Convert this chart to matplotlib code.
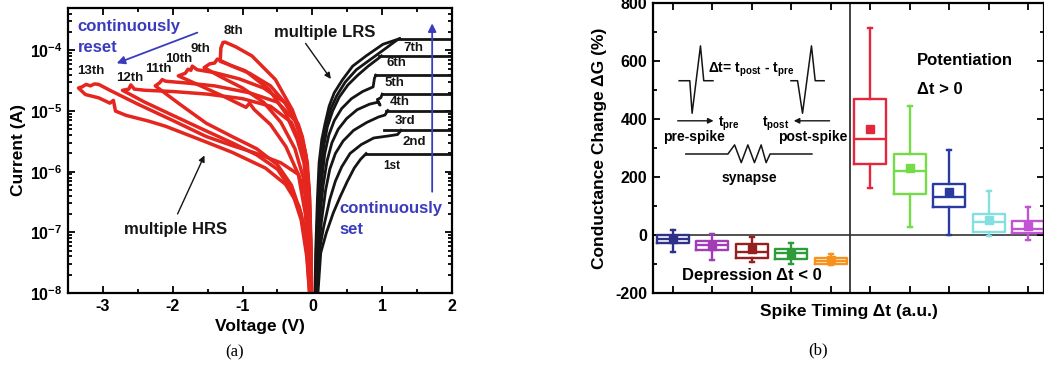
import matplotlib.pyplot as plt
from matplotlib.ticker import FixedLocator, MultipleLocator, LogLocator, NullFormatter

plt.rcParams['font.family'] = ['Liberation Sans', 'DejaVu Sans']
plt.rcParams['font.weight'] = 'bold'
plt.rcParams['axes.labelweight'] = 'bold'
plt.rcParams['axes.unicode_minus'] = False
plt.rcParams['mathtext.fontset'] = 'custom'
plt.rcParams['mathtext.rm'] = 'Liberation Sans:bold'
plt.rcParams['mathtext.bf'] = 'Liberation Sans:bold'
plt.rcParams['mathtext.default'] = 'regular'

# ---------------- (a) I-V sweeps ----------------
# set sweeps, positive bias: rising branch up to the compliance level
set1_v = [0.08, 0.12, 0.2, 0.3, 0.4, 0.5, 0.6, 0.69, 0.77]
set1_i = [1e-8, 4.6e-8, 9.8e-8, 2.1e-7, 3.9e-7, 6.9e-7, 1.15e-6, 1.6e-6, 1.99e-6]
set2_v = [0.072, 0.1, 0.16, 0.25, 0.33, 0.42, 0.54, 0.7, 0.88, 1.1, 1.22, 1.27]
set2_i = [1e-8, 5e-8, 1.2e-7, 3.5e-7, 7e-7, 1.2e-6, 2e-6, 2.8e-6, 3.6e-6, 3.9e-6, 4.1e-6, 4.8e-6]
set3_v = [0.064, 0.088, 0.13, 0.19, 0.25, 0.33, 0.44, 0.59, 0.78, 0.95, 1.04, 1.08]
set3_i = [1e-8, 5e-8, 1.5e-7, 5e-7, 1.1e-6, 2e-6, 3.2e-6, 4.8e-6, 6.5e-6, 8e-6, 8.6e-6, 1.02e-5]
set4_v = [0.057, 0.077, 0.108, 0.155, 0.21, 0.28, 0.37, 0.49, 0.64, 0.82, 0.94, 0.97, 0.93, 0.98, 1.0]
set4_i = [1e-8, 5e-8, 1.8e-7, 6e-7, 1.5e-6, 3e-6, 5e-6, 7.5e-6, 1.05e-5, 1.3e-5, 1.4e-5, 1.25e-5, 1.55e-5, 1.65e-5, 1.9e-5]
set5_v = [0.051, 0.068, 0.095, 0.132, 0.178, 0.235, 0.315, 0.42, 0.56, 0.72, 0.87, 0.89, 0.91]
set5_i = [1e-8, 5e-8, 2e-7, 7e-7, 2e-6, 4e-6, 7e-6, 1.1e-5, 1.6e-5, 2.1e-5, 2.5e-5, 3.5e-5, 3.9e-5]
set6_v = [0.046, 0.06, 0.085, 0.118, 0.162, 0.215, 0.29, 0.385, 0.51, 0.65, 0.8, 0.92, 0.99]
set6_i = [1e-8, 5e-8, 2.5e-7, 9e-7, 2.6e-6, 5.5e-6, 1e-5, 1.7e-5, 2.7e-5, 3.9e-5, 5.5e-5, 7e-5, 8.1e-5]
set7_v = [0.042, 0.055, 0.08, 0.108, 0.15, 0.2, 0.265, 0.35, 0.47, 0.63, 0.84, 1.06, 1.2, 1.25]
set7_i = [1e-8, 5e-8, 3e-7, 1.1e-6, 3e-6, 6e-6, 1.1e-5, 1.8e-5, 3e-5, 4.8e-5, 7.2e-5, 1.1e-4, 1.45e-4, 1.56e-4]
# return branch of the last set sweep (LRS)
lrs7_v = [0.038, 0.048, 0.072, 0.096, 0.135, 0.183, 0.24, 0.313, 0.433, 0.577, 0.769, 1.01, 1.25]
lrs7_i = [1e-8, 5.1e-8, 3.5e-7, 1.4e-6, 3.4e-6, 6.3e-6, 1.2e-5, 2e-5, 3.3e-5, 5.5e-5, 8.1e-5, 1.26e-4, 1.56e-4]

compliance_i = [1.99e-6, 4.8e-6, 1.02e-5, 1.9e-5, 3.9e-5, 8.1e-5, 1.56e-4]
compliance_v0 = [0.77, 1.03, 1.06, 1.0, 0.89, 0.96, 1.25]
set_vmax = 2.0
set_labels = ['1st', '2nd', '3rd', '4th', '5th', '6th', '7th']

# reset sweeps, negative bias: LRS branch -> reset -> HRS branch back to 0
reset8_v = [-0.01, -0.019, -0.038, -0.072, -0.144, -0.288, -0.529, -0.865, -1.1, -1.25,
            -1.28, -1.31, -1.32,
            -0.96, -0.625, -0.385, -0.216, -0.12, -0.06, -0.03, -0.016]
reset8_i = [1e-8, 5e-8, 3.5e-7, 1.4e-6, 3.8e-6, 1.05e-5, 3.3e-5, 8.1e-5, 1.15e-4, 1.37e-4,
            1.35e-4, 1.1e-4, 6.6e-5,
            4.6e-5, 2.3e-5, 9.3e-6, 3.4e-6, 1.4e-6, 3e-7, 5e-8, 1e-8]
reset9_v = [-0.012, -0.022, -0.045, -0.09, -0.18, -0.35, -0.6, -0.9, -1.15, -1.36,
            -1.40, -1.47, -1.55,
            -1.3, -1.0, -0.7, -0.45, -0.25, -0.13, -0.065, -0.035, -0.02]
reset9_i = [1e-8, 6e-8, 4.5e-7, 1.8e-6, 5e-6, 1.2e-5, 2.6e-5, 4.2e-5, 5.5e-5, 7.2e-5,
            6.2e-5, 6e-5, 5.2e-5,
            3.6e-5, 2.4e-5, 1.4e-5, 6.5e-6, 2.4e-6, 8e-7, 1.8e-7, 3e-8, 1e-8]
reset10_v = [-0.014, -0.026, -0.05, -0.1, -0.2, -0.4, -0.7, -1.05, -1.4, -1.65, -1.72,
             -1.74, -1.78, -1.82, -1.92,
             -1.6, -1.25, -0.95, -0.9, -0.83, -0.6, -0.38, -0.2, -0.1, -0.05, -0.025]
reset10_i = [1e-8, 7e-8, 5e-7, 2e-6, 6e-6, 1.4e-5, 2.4e-5, 3.4e-5, 4.3e-5, 4.8e-5, 5.5e-5,
             4.7e-5, 4.9e-5, 4.2e-5, 3.8e-5,
             2.6e-5, 1.7e-5, 1.15e-5, 1.35e-5, 1.05e-5, 6e-6, 2.6e-6, 9e-7, 2e-7, 3.5e-8, 1e-8]
reset11_v = [-0.015, -0.03, -0.06, -0.12, -0.25, -0.5, -0.9, -1.4, -1.8, -2.1, -2.15,
             -2.19, -2.25,
             -1.9, -1.52, -1.15, -0.8, -0.5, -0.3, -0.16, -0.08, -0.04]
reset11_i = [1e-8, 1e-7, 7e-7, 2.6e-6, 7e-6, 1.4e-5, 2e-5, 2.6e-5, 2.9e-5, 3.1e-5, 3.3e-5,
             2.9e-5, 2.6e-5,
             1.3e-5, 6.3e-6, 3.8e-6, 2.4e-6, 1.3e-6, 6e-7, 2e-7, 5e-8, 1e-8]
reset12_v = [-0.016, -0.032, -0.07, -0.14, -0.3, -0.6, -1.0, -1.5, -2.0, -2.4, -2.55, -2.6,
             -2.63, -2.72,
             -2.4, -2.0, -1.52, -1.15, -0.8, -0.5, -0.3, -0.16, -0.08, -0.04]
reset12_i = [1e-8, 1e-7, 7e-7, 2.4e-6, 6.5e-6, 1.2e-5, 1.6e-5, 1.9e-5, 2.1e-5, 2.2e-5, 2.3e-5, 2.7e-5,
             2.3e-5, 2.2e-5,
             1.4e-5, 8.5e-6, 4.7e-6, 3e-6, 1.9e-6, 1.1e-6, 5e-7, 1.6e-7, 4e-8, 1e-8]
reset13_v = [-0.018, -0.04, -0.09, -0.2, -0.45, -0.8, -1.15, -1.52, -2.0, -2.5, -2.9, -3.06,
             -3.12, -3.18, -3.24, -3.3, -3.35,
             -3.25, -3.06, -2.9, -2.85, -2.82, -2.67, -2.34, -2.1, -1.615, -1.154, -0.673,
             -0.385, -0.192, -0.096, -0.048, -0.024]
reset13_i = [1e-8, 8e-8, 4e-7, 9e-7, 1.4e-6, 2e-6, 2.7e-6, 3.8e-6, 7e-6, 1.3e-5, 2.2e-5, 2.75e-5,
             2.8e-5, 2.6e-5, 2.75e-5, 2.5e-5, 2.4e-5,
             1.87e-5, 1.65e-5, 1.35e-5, 1.5e-5, 1.0e-5, 8.5e-6, 6.8e-6, 5.6e-6, 3.4e-6, 2.1e-6, 1.15e-6,
             6.2e-7, 2.7e-7, 9.8e-8, 2.8e-8, 1e-8]

# ---------------- (b) STDP box statistics ----------------
stdp_pos = [1, 2, 3, 4, 5, 6, 7, 8, 9, 10]
stdp_whislo = [-57, -85, -93, -100, -103, 162, 27, 0, -3, -16]
stdp_q1 = [-28, -51, -77, -83, -99, 246, 141, 96, 12, 7]
stdp_med = [-12, -34, -57, -62, -88, 331, 221, 133, 47, 20]
stdp_q3 = [0, -20, -31, -48, -79, 469, 279, 176, 72, 50]
stdp_whishi = [18, 4, -5, -26, -65, 715, 445, 292, 152, 98]
stdp_mean = [-14, -36, -48, -64, -85, 365, 233, 148, 52, 32]
stdp_colors = ['#2d3189', '#a23cb6', '#95201f', '#2f9c3c', '#f6921e',
               '#e2283a', '#74dc47', '#2b3a9f', '#84dfe0', '#c154d2']

BLACK = '#151515'
RED = '#e4261f'
BLUE = '#3b3cbd'

fig = plt.figure(figsize=(10.44, 3.65), dpi=100)
ax = fig.add_axes([68 / 1044, 72 / 365, 384 / 1044, 285 / 365])

set_curves = [(set1_v, set1_i), (set2_v, set2_i), (set3_v, set3_i), (set4_v, set4_i),
              (set5_v, set5_i), (set6_v, set6_i), (set7_v, set7_i), (lrs7_v, lrs7_i)]
for v, i in set_curves:
    ax.plot(v, i, color=BLACK, lw=2.0, solid_joinstyle='round')
for v0, ic in zip(compliance_v0, compliance_i):
    ax.plot([v0, set_vmax + 0.1], [ic, ic], color=BLACK, lw=2.0)

reset_curves = [(reset8_v, reset8_i), (reset9_v, reset9_i), (reset10_v, reset10_i),
                (reset11_v, reset11_i), (reset12_v, reset12_i), (reset13_v, reset13_i)]
for v, i in reset_curves:
    ax.plot(v, i, color=RED, lw=2.5, solid_joinstyle='round')

ax.set_yscale('log')
ax.set_xlim(-3.5, 2)
ax.set_ylim(1e-8, 5e-4)
ax.yaxis.set_major_locator(FixedLocator([1e-8, 1e-7, 1e-6, 1e-5, 1e-4]))
ax.set_yticklabels([r'$\mathbf{10^{-8}}$', r'$\mathbf{10^{-7}}$', r'$\mathbf{10^{-6}}$',
                    r'$\mathbf{10^{-5}}$', r'$\mathbf{10^{-4}}$'])
ax.yaxis.set_minor_locator(LogLocator(base=10, subs=range(2, 10), numticks=20))
ax.yaxis.set_minor_formatter(NullFormatter())
ax.set_xticks([-3, -2, -1, 0, 1, 2])
ax.xaxis.set_minor_locator(MultipleLocator(0.5))
ax.tick_params(which='both', direction='in', top=True, right=True, width=1.3,
               labelsize=11.5, pad=4)
ax.tick_params(which='major', length=5)
ax.tick_params(which='minor', length=3)
for s in ax.spines.values():
    s.set_linewidth(1.6)
ax.set_xlabel('Voltage (V)', fontsize=12.5, labelpad=4)
ax.set_ylabel('Current (A)', fontsize=12.5, labelpad=3)

# annotations
ax.text(-3.365, 2.52e-4, 'continuously', color=BLUE, fontsize=12, va='center', ha='left')
ax.text(-3.365, 1.1e-4, 'reset', color=BLUE, fontsize=12, va='center', ha='left')
ax.annotate('', xy=(-2.84, 5.9e-5), xytext=(-1.61, 2.04e-4),
            arrowprops=dict(arrowstyle='-|>', color=BLUE, lw=1.3, mutation_scale=12))
ax.text(0.385, 2.5e-7, 'continuously', color=BLUE, fontsize=12, va='center', ha='left')
ax.text(0.385, 1.1e-7, 'set', color=BLUE, fontsize=12, va='center', ha='left')
ax.annotate('', xy=(1.716, 3.1e-4), xytext=(1.716, 4.2e-7),
            arrowprops=dict(arrowstyle='-|>', color=BLUE, lw=1.3, mutation_scale=12))
ax.text(-0.553, 1.96e-4, 'multiple LRS', color=BLACK, fontsize=12, va='center', ha='left')
ax.annotate('', xy=(0.288, 3.1e-5), xytext=(-0.12, 1.42e-4),
            arrowprops=dict(arrowstyle='-|>', color=BLACK, lw=1.0, mutation_scale=9))
ax.text(-2.70, 1.1e-7, 'multiple HRS', color=BLACK, fontsize=12, va='center', ha='left')
ax.annotate('', xy=(-1.529, 2.04e-6), xytext=(-1.947, 1.83e-7),
            arrowprops=dict(arrowstyle='-|>', color=BLACK, lw=1.0, mutation_scale=9))

set_label_pos = [(1.13, 1.23e-6), (1.46, 3.05e-6), (1.32, 6.8e-6), (1.25, 1.42e-5),
                 (1.178, 2.85e-5), (1.20, 6.1e-5), (1.44, 1.1e-4)]
for lab, (x, y) in zip(set_labels, set_label_pos):
    ax.text(x, y, lab, fontsize=9.5 if lab != '1st' else 8.5, ha='center', va='center', color=BLACK)
reset_labels = ['8th', '9th', '10th', '11th', '12th', '13th']
reset_label_pos = [(-1.13, 2.09e-4), (-1.61, 1.07e-4), (-1.92, 7.3e-5), (-2.20, 4.9e-5),
                   (-2.62, 3.5e-5), (-3.17, 4.6e-5)]
for lab, (x, y) in zip(reset_labels, reset_label_pos):
    ax.text(x, y, lab, fontsize=9.5, ha='center', va='center', color=BLACK)

# ---------------- (b) ----------------
bx = fig.add_axes([653 / 1044, 71.7 / 365, 391 / 1044, 290.4 / 365])
stats = []
for lo, q1, med, q3, hi, mu in zip(stdp_whislo, stdp_q1, stdp_med, stdp_q3, stdp_whishi, stdp_mean):
    stats.append(dict(whislo=lo, q1=q1, med=med, q3=q3, whishi=hi, mean=mu, fliers=[]))
art = bx.bxp(stats, positions=stdp_pos, widths=0.82, showmeans=True, capwidths=0.1,
             meanprops=dict(marker='s', markersize=5.5), manage_ticks=False)
for k, c in enumerate(stdp_colors):
    art['boxes'][k].set(color=c, lw=1.7)
    art['medians'][k].set(color=c, lw=1.7)
    art['means'][k].set(markerfacecolor=c, markeredgecolor=c)
    for j in (2 * k, 2 * k + 1):
        art['whiskers'][j].set(color=c, lw=1.7)
        art['caps'][j].set(color=c, lw=1.7)

bx.axhline(0, color='#333333', lw=1.2, zorder=0)
bx.axvline(5.5, color='#333333', lw=1.3, zorder=0)
bx.set_xlim(0.5, 10.4)
bx.set_ylim(-200, 800)
bx.set_xticks(stdp_pos)
bx.yaxis.set_major_locator(MultipleLocator(200))
bx.yaxis.set_minor_locator(MultipleLocator(100))
bx.tick_params(which='both', direction='in', top=True, right=True, width=1.3,
               labelbottom=False, labelsize=11.5, pad=4)
bx.tick_params(which='major', length=5)
bx.tick_params(which='minor', length=3)
for s in bx.spines.values():
    s.set_linewidth(1.6)
bx.set_ylabel('Conductance Change \u0394G (%)', fontsize=12.5, labelpad=6)
bx.set_xlabel('Spike Timing \u0394t (a.u.)', fontsize=12.5, labelpad=8)

bx.text(0.675, 0.80, 'Potentiation', transform=bx.transAxes, fontsize=12, va='center', ha='left')
bx.text(0.675, 0.702, '\u0394t > 0', transform=bx.transAxes, fontsize=12, va='center', ha='left')
bx.text(0.253, 0.06, 'Depression \u0394t < 0', transform=bx.transAxes, fontsize=12,
        va='center', ha='center')

# spike-pair schematic
tr = bx.transAxes
bx.plot([0.0669, 0.0941, 0.100, 0.1214, 0.1298, 0.1534],
        [0.732, 0.732, 0.620, 0.852, 0.732, 0.732], color=BLACK, lw=1.1, transform=tr)
bx.plot([0.3529, 0.3697, 0.3824, 0.4053, 0.4148, 0.4377],
        [0.732, 0.732, 0.620, 0.852, 0.732, 0.732], color=BLACK, lw=1.1, transform=tr)
bx.text(0.251, 0.769, r'$\Delta$t= t$_{\mathregular{post}}$ - t$_{\mathregular{pre}}$',
        transform=tr, fontsize=10, ha='center', va='center')
bx.annotate('', xy=(0.162, 0.594), xytext=(0.056, 0.594), xycoords=tr,
            arrowprops=dict(arrowstyle='-|>', color=BLACK, lw=1.0, mutation_scale=8))
bx.annotate('', xy=(0.3529, 0.594), xytext=(0.4588, 0.594), xycoords=tr,
            arrowprops=dict(arrowstyle='-|>', color=BLACK, lw=1.0, mutation_scale=8))
bx.text(0.167, 0.585, r't$_{\mathregular{pre}}$', transform=tr, fontsize=10, ha='left', va='center')
bx.text(0.349, 0.585, r't$_{\mathregular{post}}$', transform=tr, fontsize=10, ha='right', va='center')
bx.text(0.105, 0.537, 'pre-spike', transform=tr, fontsize=10, ha='center', va='center')
bx.text(0.409, 0.537, 'post-spike', transform=tr, fontsize=10, ha='center', va='center')
bx.plot([0.084, 0.1916, 0.2087, 0.2257, 0.2426, 0.2595, 0.2766, 0.2893, 0.2995, 0.4064],
        [0.4797, 0.4797, 0.511, 0.450, 0.511, 0.450, 0.511, 0.450, 0.4797, 0.4797],
        color=BLACK, lw=1.1, transform=tr)
bx.text(0.2468, 0.398, 'synapse', transform=tr, fontsize=10, ha='center', va='center')

fig.text(235 / 1044, 1 - 352 / 365, '(a)', family='Liberation Serif', fontweight='normal',
         fontsize=12, ha='center', va='center')
fig.text(818 / 1044, 1 - 350 / 365, '(b)', family='Liberation Serif', fontweight='normal',
         fontsize=12, ha='center', va='center')

fig.savefig('out.png', dpi=100)
